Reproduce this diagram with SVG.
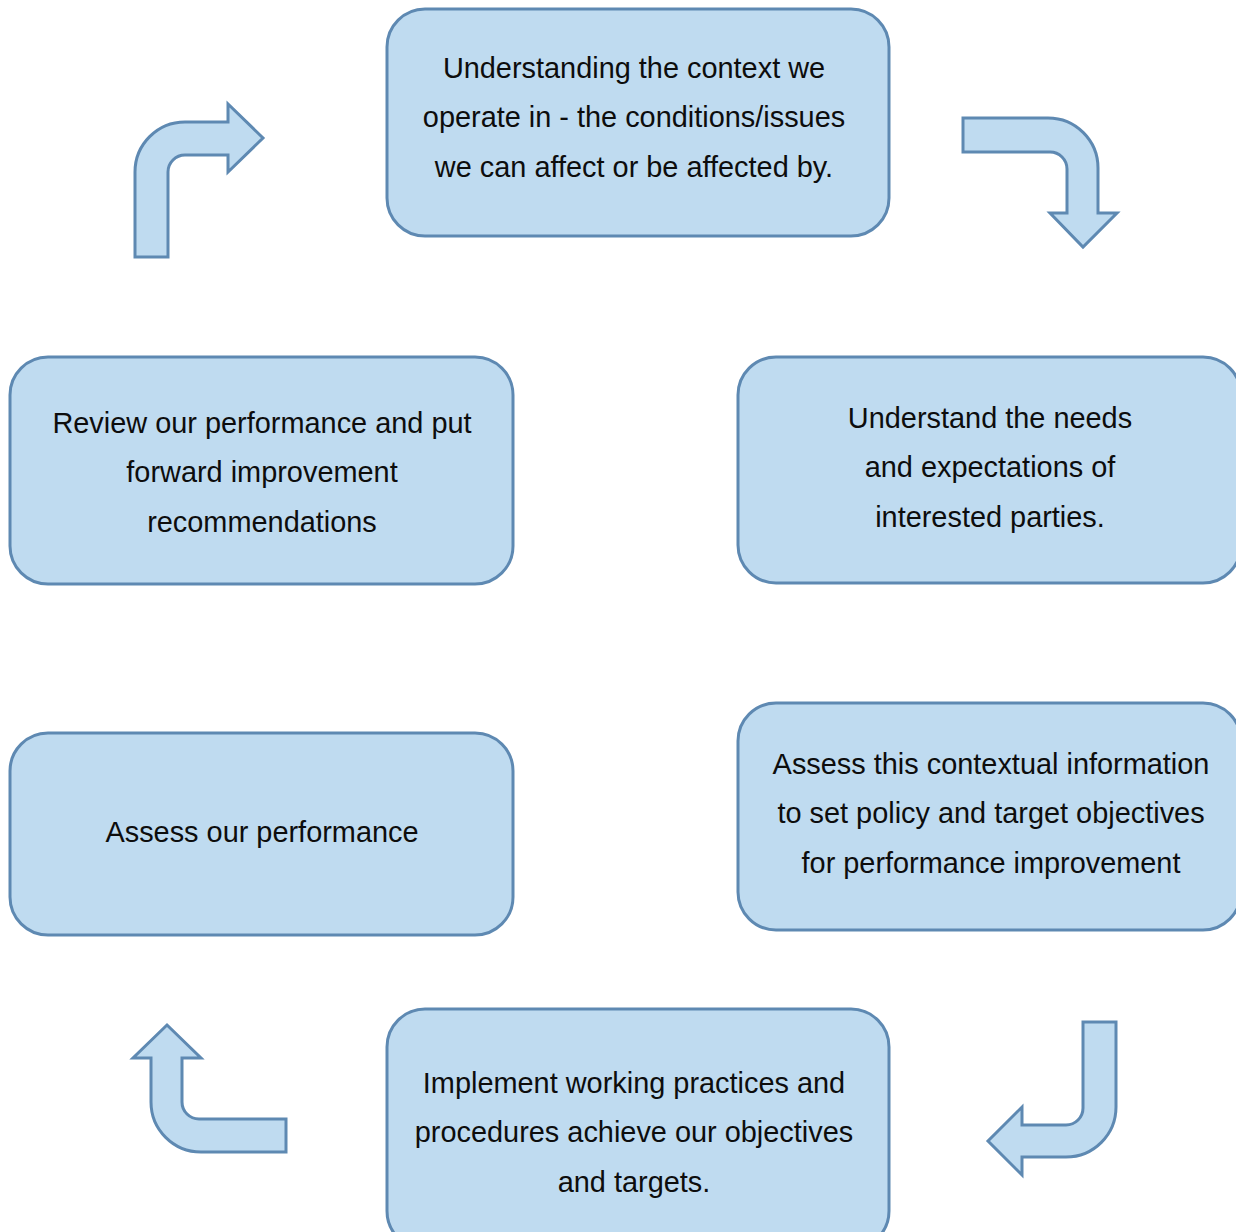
<svg xmlns="http://www.w3.org/2000/svg" width="1236" height="1232" viewBox="0 0 1236 1232">
  <style>
    .box { fill: #bfdbf0; stroke: #5e89b2; stroke-width: 3; }
    .arrow { fill: #bfdbf0; stroke: #5e89b2; stroke-width: 3; stroke-linejoin: miter; }
    .label { font-family: "Liberation Sans", Arial, sans-serif; font-size: 28.9px; fill: #0d0d0d; text-anchor: middle; }
  </style>
  <rect width="1236" height="1232" fill="#ffffff"/>

  <!-- process steps -->
  <g id="context">
    <rect class="box" x="387" y="9" width="502" height="227" rx="38" ry="38"/>
    <text class="label" x="634" y="78">Understanding the context we</text>
    <text class="label" x="634" y="127">operate in - the conditions/issues</text>
    <text class="label" x="634" y="177">we can affect or be affected by.</text>
  </g>

  <g id="needs">
    <rect class="box" x="738" y="357" width="503" height="226" rx="38" ry="38"/>
    <text class="label" x="990" y="428">Understand the needs</text>
    <text class="label" x="990" y="477">and expectations of</text>
    <text class="label" x="990" y="527">interested parties.</text>
  </g>

  <g id="policy">
    <rect class="box" x="738" y="703" width="503" height="227" rx="38" ry="38"/>
    <text class="label" x="991" y="774">Assess this contextual information</text>
    <text class="label" x="991" y="823">to set policy and target objectives</text>
    <text class="label" x="991" y="873">for performance improvement</text>
  </g>

  <g id="implement">
    <rect class="box" x="387" y="1009" width="502" height="240" rx="38" ry="38"/>
    <text class="label" x="634" y="1093">Implement working practices and</text>
    <text class="label" x="634" y="1142">procedures achieve our objectives</text>
    <text class="label" x="634" y="1192">and targets.</text>
  </g>

  <g id="assess">
    <rect class="box" x="10" y="733" width="503" height="202" rx="38" ry="38"/>
    <text class="label" x="262" y="842">Assess our performance</text>
  </g>

  <g id="review">
    <rect class="box" x="10" y="357" width="503" height="227" rx="38" ry="38"/>
    <text class="label" x="262" y="433">Review our performance and put</text>
    <text class="label" x="262" y="482">forward improvement</text>
    <text class="label" x="262" y="532">recommendations</text>
  </g>

  <!-- bent block arrows between steps -->
  <g id="connectors">
    <!-- up then right -->
    <path class="arrow" d="M135,257 L135,172 A50,50 0 0 1 185,122 L228,122 L228,104 L263,138 L228,172 L228,155 L185,155 A17,17 0 0 0 168,172 L168,257 Z"/>
    <!-- right then down -->
    <path class="arrow" d="M963,118 L1048,118 A50,50 0 0 1 1098,168 L1098,213 L1117,213 L1083,247 L1050,213 L1067,213 L1067,169 A17,17 0 0 0 1050,152 L963,152 Z"/>
    <!-- down then left -->
    <path class="arrow" d="M1083,1022 L1116,1022 L1116,1107 A50,50 0 0 1 1066,1157 L1022,1157 L1022,1175 L988,1141 L1022,1107 L1022,1125 L1066,1125 A17,17 0 0 0 1083,1108 Z"/>
    <!-- left then up -->
    <path class="arrow" d="M286,1119 L199,1119 A17,17 0 0 1 182,1102 L182,1058 L201,1058 L167,1025 L133,1058 L151,1058 L151,1102 A50,50 0 0 0 201,1152 L286,1152 Z"/>
  </g>
</svg>
